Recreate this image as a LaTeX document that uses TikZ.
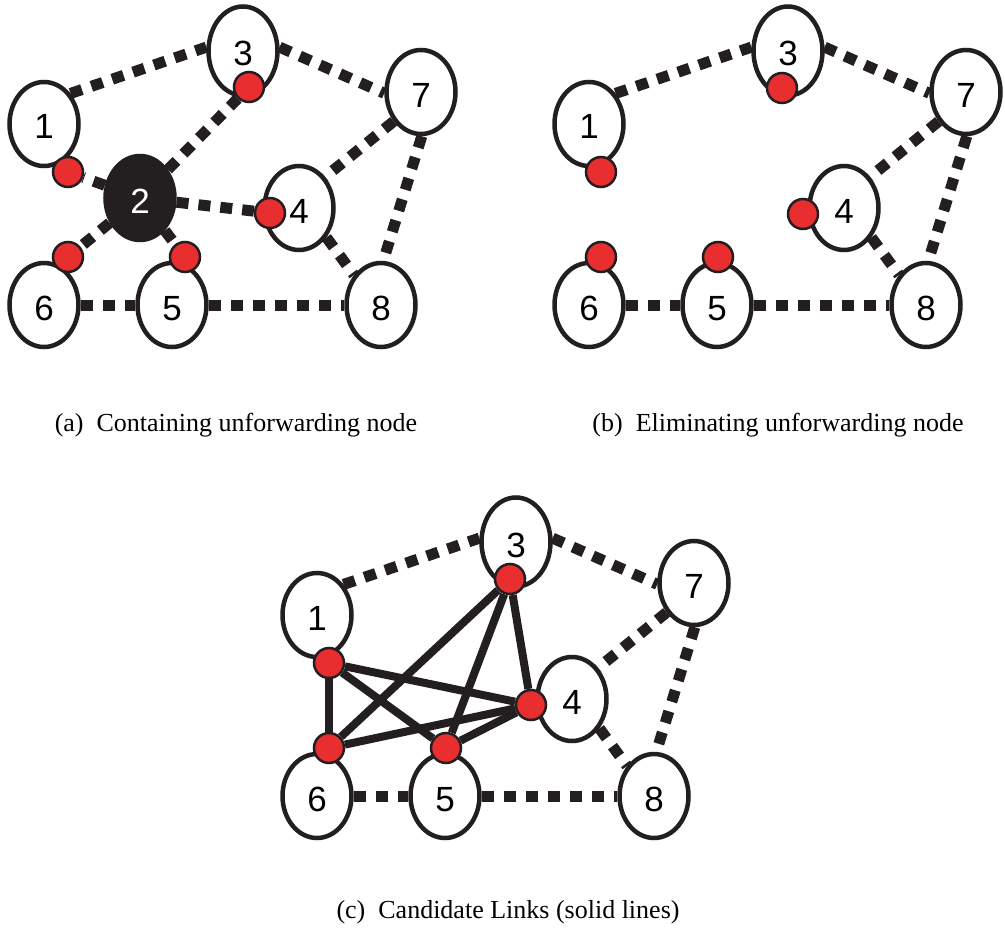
\documentclass[tikz,border=0pt]{standalone}
\usepackage{fontspec}
\setmainfont{Liberation Serif}
\newfontfamily\digitfont{Liberation Sans}
\usetikzlibrary{shapes.geometric}

\definecolor{ink}{RGB}{35,31,32}
\definecolor{dotred}{RGB}{232,46,46}

\begin{document}
\begin{tikzpicture}[x=1pt, y=-1pt,
        host/.style={ellipse, draw=ink, line width=4.5pt, fill=white, minimum width=69pt,
            minimum height=84pt, inner sep=0pt, text height=30pt, text depth=0pt,
            font=\digitfont\fontsize{35}{35}\selectfont},
        tall/.style={minimum height=89pt},
        dead/.style={fill=ink, text=white},
        relay/.style={circle, draw=ink, line width=2.5pt, fill=dotred, minimum size=30pt, inner sep=0pt},
        link/.style={draw=ink, line width=11pt, dash pattern=on 12pt off 10pt},
        cand/.style={draw=ink, line width=8pt},
        subcap/.style={font=\fontsize{26}{26}\selectfont},
    ]
    \useasboundingbox (0,0) rectangle (1005,934);

    % the same seven hosts in every panel
    \foreach \p/\dx/\dy in {a/0/0, b/545/0, c/273/491} {
        \begin{scope}[shift={(\dx,\dy)}]
            \node[host]       (\p1) at (44,124)  {1};
            \node[host, tall] (\p3) at (243,51)  {3};
            \node[host]       (\p7) at (421,92)  {7};
            \node[host]       (\p4) at (299,208) {4};
            \node[host]       (\p6) at (44,305)  {6};
            \node[host]       (\p5) at (172,305) {5};
            \node[host]       (\p8) at (381,305) {8};
        \end{scope}
    }
    \node[host, dead] (a2) at (140,198) {2};

    % relay points
    \node[relay] (a1r) at (68,172)  {};
    \node[relay] (a3r) at (249,87)  {};
    \node[relay] (a4r) at (270,213) {};
    \node[relay] (a6r) at (68,257)  {};
    \node[relay] (a5r) at (185,257) {};
    \foreach \p/\dx/\dy in {b/545/0, c/273/491} {
        \begin{scope}[shift={(\dx,\dy)}]
            \node[relay] (\p1r) at (56,172)  {};
            \node[relay] (\p3r) at (237,88)  {};
            \node[relay] (\p4r) at (258,214) {};
            \node[relay] (\p6r) at (56,257)  {};
            \node[relay] (\p5r) at (173,257) {};
        \end{scope}
    }

    % dashed links kept in all panels
    \foreach \p in {a,b,c} {
        \draw[link] (\p1.49) -- (\p3.174);
        \draw[link] (\p3.6) -- (\p7.182);
        \draw[link] (\p7.227) -- (\p4.50);
        \draw[link] (\p7.271) -- (\p8.87);
        \draw[link] (\p4.313) -- (\p8.132);
        \draw[link] (\p6.east) -- (\p5.west);
        \draw[link] (\p5.east) -- (\p8.west);
    }
    % links through node 2
    \draw[link] (a2) -- (a1r);
    \draw[link] (a2) -- (a3r);
    \draw[link] (a2) -- (a4r);
    \draw[link] (a2) -- (a6r);
    \draw[link] (a2) -- (a5r);

    % candidate links
    \draw[cand] (c1r) -- (c6r);
    \draw[cand] (c1r) -- (c5r);
    \draw[cand] (c1r) -- (c4r);
    \draw[cand] (c3r) -- (c6r);
    \draw[cand] (c3r) -- (c5r);
    \draw[cand] (c3r) -- (c4r);
    \draw[cand] (c6r) -- (c4r);
    \draw[cand] (c5r) -- (c4r);

    \node[subcap] (capa) at (236,425) {(a)\enspace Containing unforwarding node};
    \node[subcap] (capb) at (778,425) {(b)\enspace Eliminating unforwarding node};
    \node[subcap] (capc) at (508,912) {(c)\enspace Candidate Links (solid lines)};
\end{tikzpicture}
\end{document}
